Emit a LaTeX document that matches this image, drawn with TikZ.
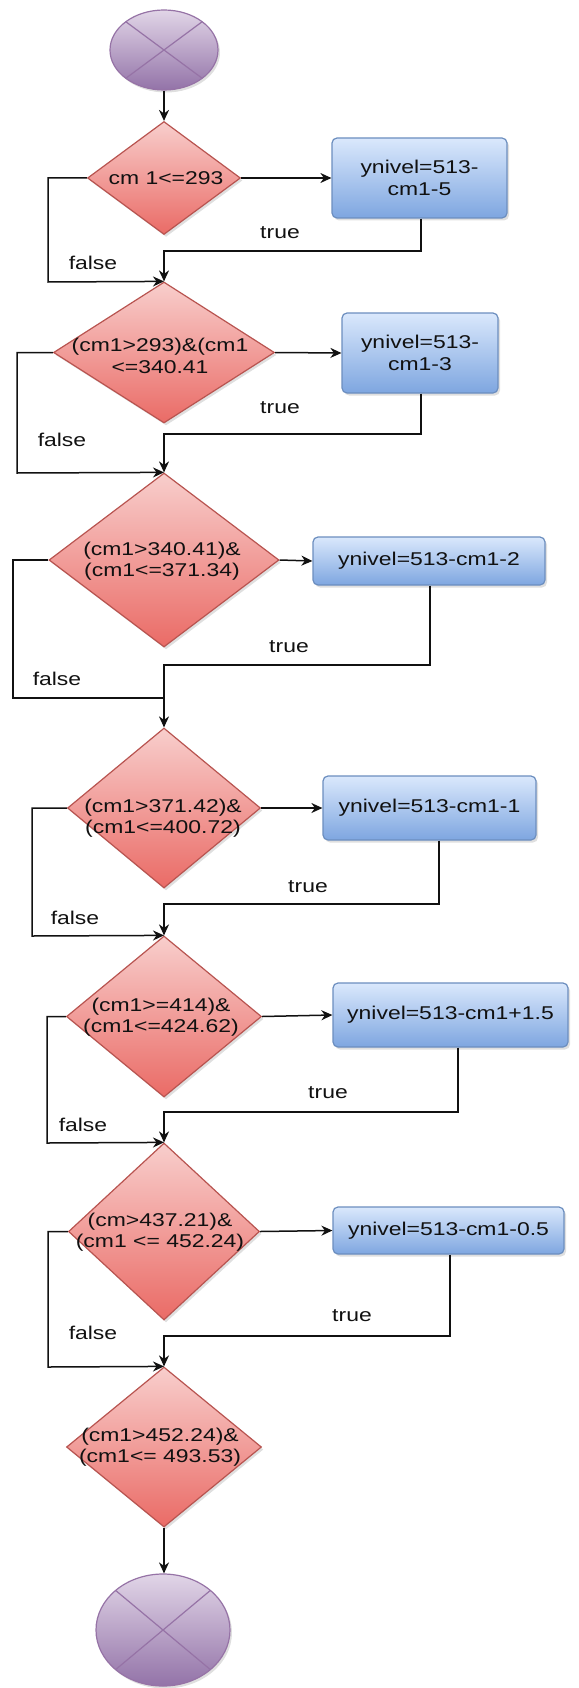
\documentclass[tikz,border=0pt]{standalone}
\usepackage{fontspec}
\setmainfont{Liberation Sans}[FakeStretch=1.24]
\usetikzlibrary{arrows.meta,shapes.geometric,shadows,calc}
\definecolor{redfill}{HTML}{F8CECC}
\definecolor{redgrad}{HTML}{EA6B66}
\definecolor{redline}{HTML}{B85450}
\definecolor{bluefill}{HTML}{DAE8FC}
\definecolor{bluegrad}{HTML}{7EA6E0}
\definecolor{blueline}{HTML}{6C8EBF}
\definecolor{purpfill}{HTML}{E1D5E7}
\definecolor{purpgrad}{HTML}{9373A8}
\definecolor{purpline}{HTML}{9673A6}
\definecolor{ink}{HTML}{111111}
\tikzset{
  shad/.style={drop shadow={shadow xshift=2pt, shadow yshift=-2.5pt, opacity=0.25}},
  dia/.style={diamond, draw=redline, line width=1.2pt, top color=redfill, bottom color=redgrad, inner sep=0pt, shad},
  procbox/.style={rectangle, rounded corners=5pt, draw=blueline, line width=1.2pt, top color=bluefill, bottom color=bluegrad, inner sep=0pt, align=center, text=ink, font=\fontsize{18.5}{21.5}\selectfont, shad},
  term/.style={ellipse, draw=purpline, line width=1.2pt, top color=purpfill, bottom color=purpgrad, inner sep=0pt, shad,
    path picture={\draw[purpline, line width=1.2pt] (path picture bounding box.north west) -- (path picture bounding box.south east) (path picture bounding box.north east) -- (path picture bounding box.south west);}},
  txt/.style={align=center, text=ink, inner sep=0pt, font=\fontsize{18.5}{21.5}\selectfont},
  conn/.style={draw=ink, line width=1.5pt},
  arr/.style={-{Stealth[length=11pt, width=10pt, inset=3.5pt]}}
}
\begin{document}
\begin{tikzpicture}[x=1pt, y=-1pt]
\useasboundingbox (0,0) rectangle (578,1688);
% terminals
\node[term, minimum width=108pt, minimum height=80pt] (s) at (164,50) {};
\node[term, minimum width=134pt, minimum height=112pt] (e) at (163,1630) {};
% decisions
\node[dia, minimum width=153pt, minimum height=113pt] (d1) at (164,178) {};
\node[dia, minimum width=221pt, minimum height=141pt] (d2) at (164,352.5) {};
\node[dia, minimum width=230pt, minimum height=174pt] (d3) at (164,560) {};
\node[dia, minimum width=193pt, minimum height=160pt] (d4) at (164,808) {};
\node[dia, minimum width=195pt, minimum height=161pt] (d5) at (164,1016.5) {};
\node[dia, minimum width=191pt, minimum height=177pt] (d6) at (164,1231.5) {};
\node[dia, minimum width=195pt, minimum height=160pt] (d7) at (164,1447) {};
\node[txt] (d1t) at (166,178) {cm 1<=293};
\node[txt] (d2t) at (160,356) {(cm1>293)\&(cm1\\<=340.41};
\node[txt] (d3t) at (162,561) {(cm1>340.41)\&\\(cm1<=371.34)};
\node[txt] (d4t) at (163,818) {(cm1>371.42)\&\\(cm1<=400.72)};
\node[txt] (d5t) at (161,1017) {(cm1>=414)\&\\(cm1<=424.62)};
\node[txt] (d6t) at (160,1232) {(cm>437.21)\&\\(cm1 <= 452.24)};
\node[txt] (d7t) at (160,1447) {(cm1>452.24)\&\\(cm1<= 493.53)};
% process boxes
\node[procbox, minimum width=175pt, minimum height=80pt] (b1) at (419.5,178) {ynivel=513-\\cm1-5};
\node[procbox, minimum width=156pt, minimum height=80pt] (b2) at (420,353) {ynivel=513-\\cm1-3};
\node[procbox, minimum width=232pt, minimum height=48pt] (b3) at (429,561) {ynivel=513-cm1-2};
\node[procbox, minimum width=213pt, minimum height=64pt] (b4) at (429.5,808) {ynivel=513-cm1-1};
\node[procbox, minimum width=235pt, minimum height=64pt] (b5) at (450.5,1015) {ynivel=513-cm1+1.5};
\node[procbox, minimum width=231pt, minimum height=47pt] (b6) at (448.5,1230.5) {ynivel=513-cm1-0.5};
% labels
\node[txt] (f1l) at (93,263) {false};
\node[txt] (f2l) at (62,440) {false};
\node[txt] (f3l) at (57,679) {false};
\node[txt] (f4l) at (75,918) {false};
\node[txt] (f5l) at (83,1125) {false};
\node[txt] (f6l) at (93,1333) {false};
\node[txt] (t1l) at (280,233) {true};
\node[txt] (t2l) at (280,408) {true};
\node[txt] (t3l) at (289,647) {true};
\node[txt] (t4l) at (308,887) {true};
\node[txt] (t5l) at (328,1093) {true};
\node[txt] (t6l) at (352,1316) {true};
% junction coordinates
\coordinate (j1) at (164,251);
\coordinate (j2) at (164,434);
\coordinate (j3) at (164,665);
\coordinate (j4) at (164,904);
\coordinate (j5) at (164,1112);
\coordinate (j6) at (164,1336);
\coordinate (f1) at (48,282);
\coordinate (f2) at (17,473);
\coordinate (f3) at (13,698);
\coordinate (f3e) at (164,698);
\coordinate (f4) at (32,936);
\coordinate (f5) at (47,1143);
\coordinate (f6) at (48,1367);
% connectors
\draw[conn,arr] (s.south) -- (d1.north);
\draw[conn,arr] (d7.south) -- (d7.south |- e.north);
\draw[conn,arr] (d1.east) -- (b1.west);
\draw[conn,arr] (d2.east) -- (b2.west);
\draw[conn,arr] (d3.east) -- (b3.west);
\draw[conn,arr] (d4.east) -- (b4.west);
\draw[conn,arr] (d5.east) -- (b5.west);
\draw[conn,arr] (d6.east) -- (b6.west);
% true paths
\draw[conn,arr] ([xshift=1.5pt]b1.south) |- (j1) -- (d2.north);
\draw[conn,arr] ([xshift=1pt]b2.south) |- (j2) -- (d3.north);
\draw[conn,arr] ([xshift=1pt]b3.south) |- (j3) -- (d4.north);
\draw[conn,arr] ([xshift=9.5pt]b4.south) |- (j4) -- (d5.north);
\draw[conn,arr] ([xshift=7.5pt]b5.south) |- (j5) -- (d6.north);
\draw[conn,arr] ([xshift=1.5pt]b6.south) |- (j6) -- (d7.north);
% false paths
\draw[conn,arr] (d1.west) -| (f1) -- (d2.north);
\draw[conn,arr] (d2.west) -| (f2) -- (d3.north);
\draw[conn] (d3.west) -| (f3) -- (f3e);
\draw[conn,arr] (d4.west) -| (f4) -- (d5.north);
\draw[conn,arr] (d5.west) -| (f5) -- (d6.north);
\draw[conn,arr] (d6.west) -| (f6) -- (d7.north);
\end{tikzpicture}
\end{document}
